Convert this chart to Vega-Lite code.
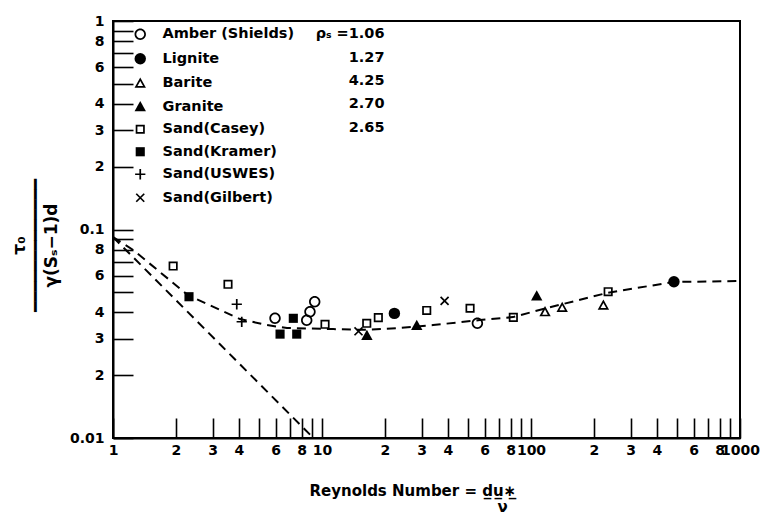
{
  "$schema": "https://vega.github.io/schema/vega-lite/v6.json",
  "width": 627,
  "height": 417,
  "autosize": {"type": "none"},
  "padding": {"left": 113, "top": 21, "right": 33, "bottom": 76},
  "background": "white",
  "config": {
    "view": {"stroke": "black", "strokeWidth": 2},
    "font": "DejaVu Sans",
    "axis": {
      "domainColor": "black", "domainWidth": 2, "tickColor": "black", "tickWidth": 1.6,
      "grid": false, "labelFont": "DejaVu Sans", "labelFontWeight": "bold", "labelFontSize": 14,
      "labelColor": "black", "titleColor": "black", "titleFont": "DejaVu Sans", "titleFontWeight": "bold"
    },
    "legend": {
      "labelFont": "DejaVu Sans", "labelFontWeight": "bold", "labelFontSize": 14.5, "labelColor": "black",
      "symbolSize": 130, "padding": 0, "titlePadding": 0
    }
  },
  "layer": [
    {
      "data": {"values": [
        {"curve": "shields", "re": 1, "tau": 0.092},
        {"curve": "shields", "re": 1.25, "tau": 0.0797},
        {"curve": "shields", "re": 2.28, "tau": 0.0485},
        {"curve": "shields", "re": 4.05, "tau": 0.0372},
        {"curve": "shields", "re": 5.46, "tau": 0.0348},
        {"curve": "shields", "re": 6.8, "tau": 0.0337},
        {"curve": "shields", "re": 11.3, "tau": 0.0333},
        {"curve": "shields", "re": 16.4, "tau": 0.033},
        {"curve": "shields", "re": 23.6, "tau": 0.0337},
        {"curve": "shields", "re": 34, "tau": 0.0348},
        {"curve": "shields", "re": 57, "tau": 0.0368},
        {"curve": "shields", "re": 82, "tau": 0.038},
        {"curve": "shields", "re": 119, "tau": 0.042},
        {"curve": "shields", "re": 231, "tau": 0.0496},
        {"curve": "shields", "re": 478, "tau": 0.056},
        {"curve": "shields", "re": 1000, "tau": 0.0566},
        {"curve": "laminar", "re": 1, "tau": 0.092},
        {"curve": "laminar", "re": 9.1, "tau": 0.01}
      ]},
      "mark": {"type": "line", "strokeDash": [9, 6], "strokeWidth": 2, "color": "black"},
      "encoding": {
        "x": {
          "field": "re", "type": "quantitative",
          "scale": {"type": "log", "domain": [1, 1000], "nice": false},
          "axis": {
            "values": [1, 2, 3, 4, 5, 6, 7, 8, 9, 10, 20, 30, 40, 50, 60, 70, 80, 90, 100, 200, 300, 400, 500, 600, 700, 800, 900, 1000],
            "tickSize": -20,
            "labelPadding": 25,
            "labelFlush": false,
            "labelOverlap": false,
            "labelExpr": "datum.value == 1000 ? '\u00a0\u00a0\u00a01000' : indexof([1,10,100], datum.value) >= 0 ? format(datum.value, 'd') : (indexof([2,3,4,6,8,20,30,40,60,80,200,300,400,600,800], datum.value) >= 0 ? substring(format(datum.value, 'd'), 0, 1) : '')",
            "title": ["Reynolds Number = d̲u̲∗̲", "\u200b\u00a0\u00a0\u00a0\u00a0\u00a0\u00a0\u00a0\u00a0\u00a0\u00a0\u00a0\u00a0\u00a0\u00a0\u00a0\u00a0\u00a0\u00a0\u00a0\u00a0\u00a0\u00a0\u00a0\u00a0\u00a0\u00a0\u00a0\u00a0\u00a0\u00a0\u00a0\u00a0\u00a0\u00a0\u00a0\u00a0ν"],
            "titleFontSize": 15,
            "titleLineHeight": 16,
            "titleAlign": "left",
            "titleAnchor": "start",
            "titleBaseline": "top",
            "titleX": 196,
            "titleY": 45
          }
        },
        "y": {
          "field": "tau", "type": "quantitative",
          "scale": {"type": "log", "domain": [0.01, 1], "nice": false},
          "axis": {
            "values": [0.01, 0.02, 0.03, 0.04, 0.05, 0.06, 0.07, 0.08, 0.09, 0.1, 0.2, 0.3, 0.4, 0.5, 0.6, 0.7, 0.8, 0.9, 1],
            "tickSize": -20,
            "labelPadding": 29,
            "labelFlush": false,
            "labelOverlap": false,
            "labelExpr": "datum.value == 1 ? '1' : datum.value == 0.1 ? '0.1' : datum.value == 0.01 ? '0.01' : (indexof([0.8,0.08], datum.value) >= 0 ? '8' : indexof([0.6,0.06], datum.value) >= 0 ? '6' : indexof([0.4,0.04], datum.value) >= 0 ? '4' : indexof([0.3,0.03], datum.value) >= 0 ? '3' : indexof([0.2,0.02], datum.value) >= 0 ? '2' : '')",
            "title": ["τ₀", "━━━━━━━━━━━━━", "γ(Sₛ−1)d"],
            "titleFontSize": 17,
            "titleLineHeight": 16,
            "titleAngle": 270,
            "titleAlign": "center",
            "titleBaseline": "bottom",
            "titleX": -85,
            "titleY": 224
          }
        },
        "detail": {"field": "curve"}
      }
    },
    {
      "data": {"values": [
        {"material": "Amber (Shields)", "rho": "ρₛ =1.06", "re": 5.96, "tau": 0.0375},
        {"material": "Amber (Shields)", "rho": "ρₛ =1.06", "re": 8.45, "tau": 0.0367},
        {"material": "Amber (Shields)", "rho": "ρₛ =1.06", "re": 8.76, "tau": 0.0403},
        {"material": "Amber (Shields)", "rho": "ρₛ =1.06", "re": 9.23, "tau": 0.045},
        {"material": "Amber (Shields)", "rho": "ρₛ =1.06", "re": 55.4, "tau": 0.0355},
        {"material": "Lignite", "rho": "1.27", "re": 22.2, "tau": 0.0396},
        {"material": "Lignite", "rho": "1.27", "re": 483, "tau": 0.0562},
        {"material": "Barite", "rho": "4.25", "re": 116.7, "tau": 0.0403},
        {"material": "Barite", "rho": "4.25", "re": 141, "tau": 0.0423},
        {"material": "Barite", "rho": "4.25", "re": 222, "tau": 0.0434},
        {"material": "Granite", "rho": "2.70", "re": 16.4, "tau": 0.031},
        {"material": "Granite", "rho": "2.70", "re": 28.4, "tau": 0.0347},
        {"material": "Granite", "rho": "2.70", "re": 106.5, "tau": 0.048},
        {"material": "Sand(Casey)", "rho": "2.65", "re": 1.94, "tau": 0.0668},
        {"material": "Sand(Casey)", "rho": "2.65", "re": 3.55, "tau": 0.0546},
        {"material": "Sand(Casey)", "rho": "2.65", "re": 10.34, "tau": 0.0351},
        {"material": "Sand(Casey)", "rho": "2.65", "re": 16.37, "tau": 0.0355},
        {"material": "Sand(Casey)", "rho": "2.65", "re": 18.6, "tau": 0.0378},
        {"material": "Sand(Casey)", "rho": "2.65", "re": 31.7, "tau": 0.0409},
        {"material": "Sand(Casey)", "rho": "2.65", "re": 51.1, "tau": 0.0419},
        {"material": "Sand(Casey)", "rho": "2.65", "re": 82.3, "tau": 0.0379},
        {"material": "Sand(Casey)", "rho": "2.65", "re": 234, "tau": 0.0503},
        {"material": "Sand(Kramer)", "rho": "none", "re": 2.31, "tau": 0.0476},
        {"material": "Sand(Kramer)", "rho": "none", "re": 6.3, "tau": 0.0315},
        {"material": "Sand(Kramer)", "rho": "none", "re": 7.29, "tau": 0.0375},
        {"material": "Sand(Kramer)", "rho": "none", "re": 7.57, "tau": 0.0315},
        {"material": "Sand(USWES)", "rho": "none", "re": 3.91, "tau": 0.0438},
        {"material": "Sand(USWES)", "rho": "none", "re": 4.13, "tau": 0.0361},
        {"material": "Sand(Gilbert)", "rho": "none", "re": 14.95, "tau": 0.0325},
        {"material": "Sand(Gilbert)", "rho": "none", "re": 38.6, "tau": 0.0455}
      ]},
      "mark": {"type": "point", "size": 130, "filled": true, "color": "black", "strokeWidth": 0, "fillOpacity": 1},
      "encoding": {
        "x": {"field": "re", "type": "quantitative"},
        "y": {"field": "tau", "type": "quantitative"},
        "shape": {
          "field": "material", "type": "nominal",
          "scale": {
            "domain": ["Amber (Shields)", "Lignite", "Barite", "Granite", "Sand(Casey)", "Sand(Kramer)", "Sand(USWES)", "Sand(Gilbert)"],
            "range": [
              "M-1,0A1,1 0 1,0 1,0A1,1 0 1,0 -1,0Z M-0.7,0A0.7,0.7 0 1,1 0.7,0A0.7,0.7 0 1,1 -0.7,0Z",
              "circle",
              "M0,-1L1,0.8L-1,0.8Z M0,-0.382L-0.49,0.5L0.49,0.5Z",
              "M0,-1L1,0.8L-1,0.8Z",
              "M-0.8,-0.8H0.8V0.8H-0.8Z M-0.5,-0.5V0.5H0.5V-0.5Z",
              "M-0.8,-0.8H0.8V0.8H-0.8Z",
              "M-0.9,-0.15H-0.15V-0.9H0.15V-0.15H0.9V0.15H0.15V0.9H-0.15V0.15H-0.9Z",
              "M-0.594,-0.806L0.806,0.594L0.594,0.806L-0.806,-0.594Z M0.594,-0.806L0.806,-0.594L-0.594,0.806L-0.806,0.594Z"
            ]
          },
          "legend": {"orient": "none", "legendX": 20, "legendY": 6, "title": null, "labelOffset": 15, "rowPadding": 6.5}
        },
        "opacity": {
          "field": "rho", "type": "nominal",
          "scale": {
            "type": "ordinal",
            "domain": ["ρₛ =1.06", "1.27", "4.25", "2.70", "2.65", "none"],
            "range": [1, 1, 1, 1, 1, 1]
          },
          "legend": {"orient": "none", "legendX": 257, "legendY": 6, "title": null, "rowPadding": 8.4, "values": ["ρₛ =1.06", "1.27", "4.25", "2.70", "2.65"], "symbolOpacity": 0, "symbolSize": 1, "labelAlign": "right", "labelOffset": 0}
        }
      }
    }
  ]
}
